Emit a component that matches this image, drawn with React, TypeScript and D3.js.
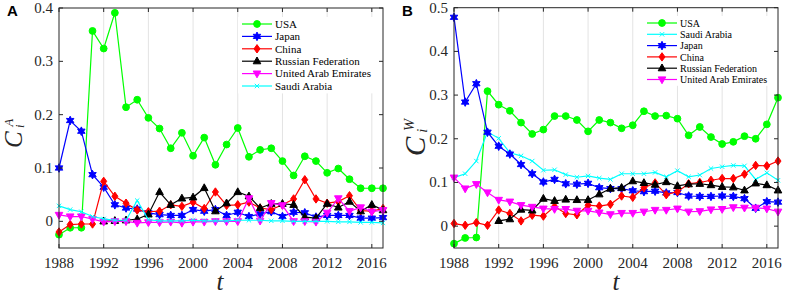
import * as d3 from "d3";
import React from "react";

const years = d3.range(1988, 2018);
const xTicks = [1988, 1992, 1996, 2000, 2004, 2008, 2012, 2016];

// panel A values
const usaA = [-0.025, -0.012, -0.012, 0.357, 0.324, 0.391, 0.214, 0.228, 0.194, 0.174, 0.137, 0.166, 0.123, 0.157, 0.106, 0.144, 0.175, 0.121, 0.134, 0.137, 0.113, 0.086, 0.122, 0.113, 0.091, 0.099, 0.079, 0.062, 0.062, 0.062];
const japanA = [0.1, 0.189, 0.169, 0.0875, 0.064, 0.031, 0.025, 0.023, 0.016, 0.0125, 0.011, 0.011, 0.022, 0.019, 0.022, 0.011, 0.017, 0.009, 0.014, 0.018, 0.009, 0.017, 0.016, 0.008, 0.011, 0.011, 0.011, 0.006, 0.006, 0.007];
const chinaA = [-0.02, -0.006, -0.005, -0.005, 0.075, 0.047, 0.034, 0.021, 0.018, 0.019, 0.031, 0.028, 0.036, 0.024, 0.055, 0.03, 0.031, 0.036, 0.025, 0.022, 0.031, 0.042, 0.078, 0.042, 0.034, 0.037, 0.048, 0.02, 0.019, 0.024];
const russiaA = [null, null, null, null, 0.0, 0.001, 0.002, 0.004, 0.013, 0.055, 0.031, 0.043, 0.045, 0.0625, 0.019, 0.034, 0.055, 0.047, 0.025, 0.033, 0.033, 0.031, 0.008, 0.006, 0.033, 0.026, 0.037, 0.019, 0.031, 0.021];
const uaeA = [0.012, 0.009, 0.009, 0.004, -0.001, 0.0, 0.0, -0.003, -0.002, -0.002, -0.001, -0.003, -0.001, -0.001, 0.0, 0.0, 0.0, 0.043, 0.001, 0.034, 0.03, 0.0, 0.0, -0.001, 0.016, 0.043, 0.019, 0.026, 0.018, 0.021];
const saudiA = [0.029, 0.022, 0.018, 0.009, 0.0045, 0.002, 0.002, 0.039, 0.003, 0.001, 0.001, 0.001, 0.002, 0.001, 0.001, 0.001, 0.002, 0.002, 0.002, 0.001, 0.001, 0.0, 0.0, 0.0, 0.0, -0.001, -0.001, -0.002, -0.002, -0.003];

// panel B values
const usaB = [-0.04, -0.027, -0.026, 0.309, 0.278, 0.264, 0.237, 0.211, 0.221, 0.252, 0.252, 0.243, 0.217, 0.243, 0.237, 0.224, 0.231, 0.263, 0.252, 0.253, 0.246, 0.208, 0.227, 0.204, 0.188, 0.193, 0.206, 0.2, 0.233, 0.294];
const saudiB = [0.111, 0.12, 0.149, 0.216, 0.201, 0.168, 0.161, 0.149, 0.128, 0.129, 0.118, 0.112, 0.115, 0.11, 0.107, 0.12, 0.12, 0.12, 0.123, 0.113, 0.127, 0.113, 0.117, 0.132, 0.136, 0.139, 0.138, 0.107, 0.122, 0.105];
const japanB = [0.478, 0.284, 0.326, 0.215, 0.183, 0.165, 0.141, 0.12, 0.101, 0.107, 0.097, 0.096, 0.098, 0.088, 0.086, 0.086, 0.081, 0.079, 0.08, 0.076, 0.077, 0.069, 0.068, 0.068, 0.069, 0.068, 0.063, 0.041, 0.056, 0.055];
const chinaB = [0.006, 0.002, 0.008, 0.002, 0.037, 0.029, 0.012, 0.025, 0.023, 0.045, 0.029, 0.026, 0.048, 0.046, 0.05, 0.069, 0.066, 0.088, 0.099, 0.072, 0.079, 0.097, 0.1, 0.105, 0.109, 0.109, 0.119, 0.139, 0.138, 0.149];
const russiaB = [null, null, null, null, 0.012, 0.016, 0.038, 0.036, 0.063, 0.058, 0.061, 0.06, 0.06, 0.073, 0.086, 0.088, 0.103, 0.099, 0.095, 0.101, 0.092, 0.096, 0.097, 0.094, 0.09, 0.089, 0.082, 0.098, 0.094, 0.082];
const uaeB = [0.111, 0.086, 0.096, 0.077, 0.06, 0.056, 0.048, 0.044, 0.04, 0.039, 0.039, 0.035, 0.035, 0.031, 0.027, 0.03, 0.03, 0.033, 0.037, 0.037, 0.04, 0.033, 0.034, 0.038, 0.039, 0.043, 0.042, 0.042, 0.04, 0.033];

const seriesA = [
  { name: "USA", vals: usaA, color: "#00ff00", mk: "o" },
  { name: "Japan", vals: japanA, color: "#0000ff", mk: "h" },
  { name: "China", vals: chinaA, color: "#ff0000", mk: "d" },
  { name: "Russian Federation", vals: russiaA, color: "#000000", mk: "^" },
  { name: "United Arab Emirates", vals: uaeA, color: "#ff00ff", mk: "v" },
  { name: "Saudi Arabia", vals: saudiA, color: "#00ffff", mk: "x" },
];
const seriesB = [
  { name: "USA", vals: usaB, color: "#00ff00", mk: "o" },
  { name: "Saudi Arabia", vals: saudiB, color: "#00ffff", mk: "x" },
  { name: "Japan", vals: japanB, color: "#0000ff", mk: "h" },
  { name: "China", vals: chinaB, color: "#ff0000", mk: "d" },
  { name: "Russian Federation", vals: russiaB, color: "#000000", mk: "^" },
  { name: "United Arab Emirates", vals: uaeB, color: "#ff00ff", mk: "v" },
];

const axisCol = "#262626";
const serif = "'Liberation Serif', 'Times New Roman', serif";

function markerPath(mk: string) {
  if (mk === "h") {
    const pts = d3.range(12).map((i) => {
      const r = i % 2 === 0 ? 4.3 : 2.3;
      const a = (i * Math.PI) / 6 - Math.PI / 2;
      return [r * Math.cos(a), r * Math.sin(a)];
    });
    return "M" + pts.map((p) => p.join(",")).join("L") + "Z";
  }
  if (mk === "d") return "M0,-4.2L3,0L0,4.2L-3,0Z";
  if (mk === "^") return "M0,-4.2L3.8,2.6L-3.8,2.6Z";
  if (mk === "v") return "M0,4.2L3.8,-2.6L-3.8,-2.6Z";
  if (mk === "x") return "M-2.2,-2.2L2.2,2.2M-2.2,2.2L2.2,-2.2";
  return "";
}

function Marker({ x, y, mk, color }: any) {
  if (mk === "o") return <circle cx={x} cy={y} r={3.4} fill={color} stroke={color} />;
  const fill = mk === "x" ? "none" : color;
  return <path d={markerPath(mk)} transform={`translate(${x},${y})`} fill={fill} stroke={color} strokeWidth={1} />;
}

function Panel(props: any) {
  const { series, x0, x1, yMax, yTicks, y0px, y1px, legX, legY, legStep, legFont, legW, letter, sup, lab, tX } = props;
  const x = d3.scaleLinear().domain([1988, 2017]).range([x0, x1]);
  const y = d3.scaleLinear().domain([-0.05, yMax]).range([y0px, y1px]);
  const line = d3
    .line<any>()
    .defined((d) => d != null)
    .x((d, i) => x(years[i]))
    .y((d) => y(d));
  const tl = 4;
  return (
    <g>
      {xTicks.slice(1).map((t) => (
        <line key={"g" + t} x1={x(t)} x2={x(t)} y1={y1px} y2={y0px} stroke="#e3e3e3" strokeWidth={1} />
      ))}
      {series.map((s: any) => (
        <g key={s.name}>
          <path d={line(s.vals as any) || ""} fill="none" stroke={s.color} strokeWidth={1.2} />
          {s.vals.map((v: any, i: number) =>
            v == null ? null : <Marker key={i} x={x(years[i])} y={y(v)} mk={s.mk} color={s.color} />
          )}
        </g>
      ))}
      {/* legend */}
      <rect x={legX - 4} y={legY - 7} width={legW} height={legStep * 6 + 2} fill="white" />
      {series.map((s: any, i: number) => {
        const ly = legY + i * legStep;
        return (
          <g key={"l" + s.name}>
            <line x1={legX} x2={legX + 30} y1={ly} y2={ly} stroke={s.color} strokeWidth={1.2} />
            <Marker x={legX + 15} y={ly} mk={s.mk} color={s.color} />
            <text x={legX + 33} y={ly + 3.8} fontFamily={serif} fontSize={legFont} fill="#000">
              {s.name}
            </text>
          </g>
        );
      })}
      {/* axes box */}
      <rect x={x0} y={y1px} width={x1 - x0} height={y0px - y1px} fill="none" stroke={axisCol} strokeWidth={1} />
      {xTicks.map((t) => (
        <g key={"xt" + t}>
          <line x1={x(t)} x2={x(t)} y1={y0px} y2={y0px - tl} stroke={axisCol} />
          <line x1={x(t)} x2={x(t)} y1={y1px} y2={y1px + tl} stroke={axisCol} />
          <text x={x(t)} y={y0px + 20} textAnchor="middle" fontFamily={serif} fontSize={15} fill={axisCol}>
            {t}
          </text>
        </g>
      ))}
      {yTicks.map((t: number) => (
        <g key={"yt" + t}>
          <line x1={x0} x2={x0 + tl} y1={y(t)} y2={y(t)} stroke={axisCol} />
          <line x1={x1} x2={x1 - tl} y1={y(t)} y2={y(t)} stroke={axisCol} />
          <text x={x0 - 6} y={y(t) + 5} textAnchor="end" fontFamily={serif} fontSize={15} fill={axisCol}>
            {t === 0 ? "0" : d3.format(".1f")(t)}
          </text>
        </g>
      ))}
      <text x={tX} y={290} textAnchor="middle" fontFamily={serif} fontStyle="italic" fontSize={25} fill={axisCol}>
        t
      </text>
      <g transform={`translate(${lab.x},${lab.y}) rotate(-90)`} fontFamily={serif} fill={axisCol}>
        <text x={0} y={0} fontStyle="italic" fontSize={lab.fs}>C</text>
        <text x={lab.fs * 0.8} y={lab.fs * 0.08} fontStyle="italic" fontSize={lab.fs * 0.5}>i</text>
        <text x={lab.fs * 0.86} y={-lab.fs * 0.38} fontStyle="italic" fontSize={lab.fs * 0.5}>{sup}</text>
      </g>
      <text x={x0 - 52} y={16} fontFamily="'Liberation Sans', Arial, sans-serif" fontWeight="bold" fontSize={15} fill="#000">
        {letter}
      </text>
    </g>
  );
}

export default function App() {
  return (
    <div>
      <style>{`body{margin:0}`}</style>
      <svg width={789} height={296} style={{ display: "block", background: "white" }}>
        <Panel
          series={seriesA}
          x0={59}
          x1={383}
          yMax={0.4}
          yTicks={[0, 0.1, 0.2, 0.3, 0.4]}
          y0px={248}
          y1px={8}
          legX={242}
          legY={24}
          legStep={12.4}
          legFont={11}
          legW={140}
          letter="A"
          sup="A"
          lab={{ x: 22, y: 148, fs: 25 }}
          tX={220}
        />
        <Panel
          series={seriesB}
          x0={454}
          x1={778}
          yMax={0.5}
          yTicks={[0, 0.1, 0.2, 0.3, 0.4, 0.5]}
          y0px={248}
          y1px={7.7}
          legX={647}
          legY={23}
          legStep={11.3}
          legFont={10}
          legW={125}
          letter="B"
          sup="W"
          lab={{ x: 425, y: 156, fs: 29 }}
          tX={616}
        />
      </svg>
    </div>
  );
}
